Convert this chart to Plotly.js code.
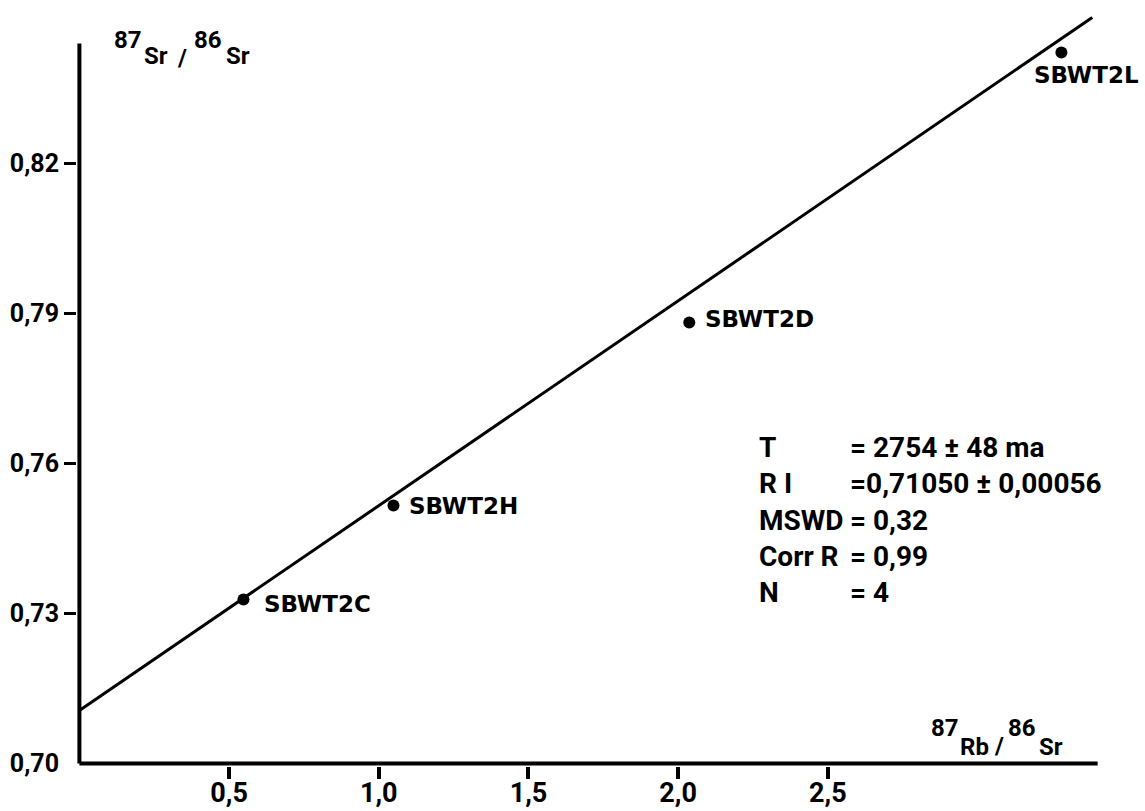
<!DOCTYPE html>
<html><head><meta charset="utf-8">
<script src="https://cdn.plot.ly/plotly-3.0.1.min.js"></script>
<style>html,body{margin:0;padding:0;background:#fff}#chart{width:1145px;height:811px}</style>
</head><body><div id="chart"></div>
<script>
// ---- data ----
const sampleNames = ['SBWT2C', 'SBWT2H', 'SBWT2D', 'SBWT2L'];
const rbSr = [0.548, 1.049, 2.037, 3.280];        // 87Rb/86Sr
const srSr = [0.7328, 0.7516, 0.7882, 0.8422];    // 87Sr/86Sr
const isochronX = [0, 3.383];
const isochronY = [0.7106, 0.8492];
const xTickVals = [0.5, 1.0, 1.5, 2.0, 2.5];
const xTickText = ['0,5', '1,0', '1,5', '2,0', '2,5'];
const yTickVals = [0.70, 0.73, 0.76, 0.79, 0.82];
const yTickText = ['0,70', '0,73', '0,76', '0,79', '0,82'];
const statNames = ['T', 'R I', 'MSWD', 'Corr R', 'N'];
const statValues = ['= 2754 ± 48 ma', '=0,71050 ± 0,00056', '= 0,32', '= 0,99', '= 4'];
const yTitleParts = ['87', 'Sr', '/', '86', 'Sr'];
const xTitleParts = ['87', 'Rb', '/', '86', 'Sr'];
const xAxisEnd = 3.401;
const yAxisEnd = 0.844;

// ---- layout / style ----
const W = 1145, H = 811;
const M = {l: 77, r: 33, t: 3, b: 45};
const xRange = [-0.008, 3.449];
const yRange = [0.6995, 0.8521];
const px2paperX = px => (px - M.l) / (W - M.l - M.r);
const px2paperY = py => (H - M.b - py) / (H - M.t - M.b);

const labelOffsets = [[19, -4], [14, 0], [14, 4], [-29, -22]];
const yTitlePos = [[112, 40], [142, 56], [175, 58], [192, 40], [224, 56]];
const xTitlePos = [[929, 728], [958, 747], [992, 746], [1006, 728], [1037, 747]];
const statRowY = [448, 484, 520, 556, 592];

const mainFont = 'Roboto, Liberation Sans, DejaVu Sans, sans-serif';
const wideFont = 'DejaVu Sans, sans-serif';

const traces = [
  {x: isochronX, y: isochronY, type: 'scatter', mode: 'lines', yaxis: 'y2',
   line: {color: '#000', width: 3}, hoverinfo: 'skip', showlegend: false},
  {x: rbSr, y: srSr, type: 'scatter', mode: 'markers',
   marker: {color: '#000', size: 12}, showlegend: false}
];

const annotations = [];
sampleNames.forEach((n, i) => annotations.push({
  x: rbSr[i], y: srSr[i], xref: 'x', yref: 'y', text: n, showarrow: false,
  xanchor: 'left', yanchor: 'middle', xshift: labelOffsets[i][0], yshift: labelOffsets[i][1],
  font: {family: wideFont, size: 23, color: '#000', weight: 'bold'}
}));
function addParts(parts, pos) {
  parts.forEach((t, i) => annotations.push({
    x: px2paperX(pos[i][0]), y: px2paperY(pos[i][1]), xref: 'paper', yref: 'paper',
    text: t, showarrow: false, xanchor: 'left', yanchor: 'middle',
    font: {family: mainFont, size: 24, color: '#000', weight: 'bold'}
  }));
}
addParts(yTitleParts, yTitlePos);
addParts(xTitleParts, xTitlePos);
statNames.forEach((n, i) => {
  annotations.push({x: px2paperX(757), y: px2paperY(statRowY[i]), xref: 'paper', yref: 'paper',
    text: n, showarrow: false, xanchor: 'left', yanchor: 'middle',
    font: {family: mainFont, size: 28, color: '#000', weight: 'bold'}});
  annotations.push({x: px2paperX(848), y: px2paperY(statRowY[i]), xref: 'paper', yref: 'paper',
    text: statValues[i], showarrow: false, xanchor: 'left', yanchor: 'middle',
    font: {family: mainFont, size: 28, color: '#000', weight: 'bold'}});
});

const layout = {
  width: W, height: H, margin: M, paper_bgcolor: '#fff', plot_bgcolor: '#fff',
  separators: ', ', showlegend: false,
  xaxis: {range: xRange, tickvals: xTickVals, ticktext: xTickText, ticks: 'outside',
    ticklen: 12, tickwidth: 4, tickcolor: '#000', ticklabelstandoff: -9,
    showgrid: false, zeroline: false, showline: false,
    tickfont: {family: mainFont, size: 27, color: '#000', weight: 'bold'}, fixedrange: true},
  yaxis: {range: yRange, tickvals: yTickVals, ticktext: yTickText, ticks: 'outside',
    ticklen: 12, tickwidth: 3, tickcolor: 'rgba(0,0,0,0)', showgrid: false, zeroline: false, showline: false,
    tickfont: {family: mainFont, size: 25, color: '#000', weight: 'bold'}, fixedrange: true},
  yaxis2: {range: yRange, overlaying: 'y', side: 'left', tickvals: yTickVals.slice(1), ticks: 'outside',
    ticklen: 12, tickwidth: 3, tickcolor: '#000', showticklabels: false, showgrid: false,
    zeroline: false, showline: false, fixedrange: true},
  shapes: [
    {type: 'line', xref: 'x', yref: 'y', x0: 0, x1: xAxisEnd, y0: 0.70, y1: 0.70, line: {color: '#000', width: 4}},
    {type: 'line', xref: 'x', yref: 'y', x0: 0, x1: 0, y0: 0.70, y1: yAxisEnd, line: {color: '#000', width: 4}}
  ],
  annotations: annotations
};

Plotly.newPlot('chart', traces, layout, {displayModeBar: false, staticPlot: true});
</script></body></html>
